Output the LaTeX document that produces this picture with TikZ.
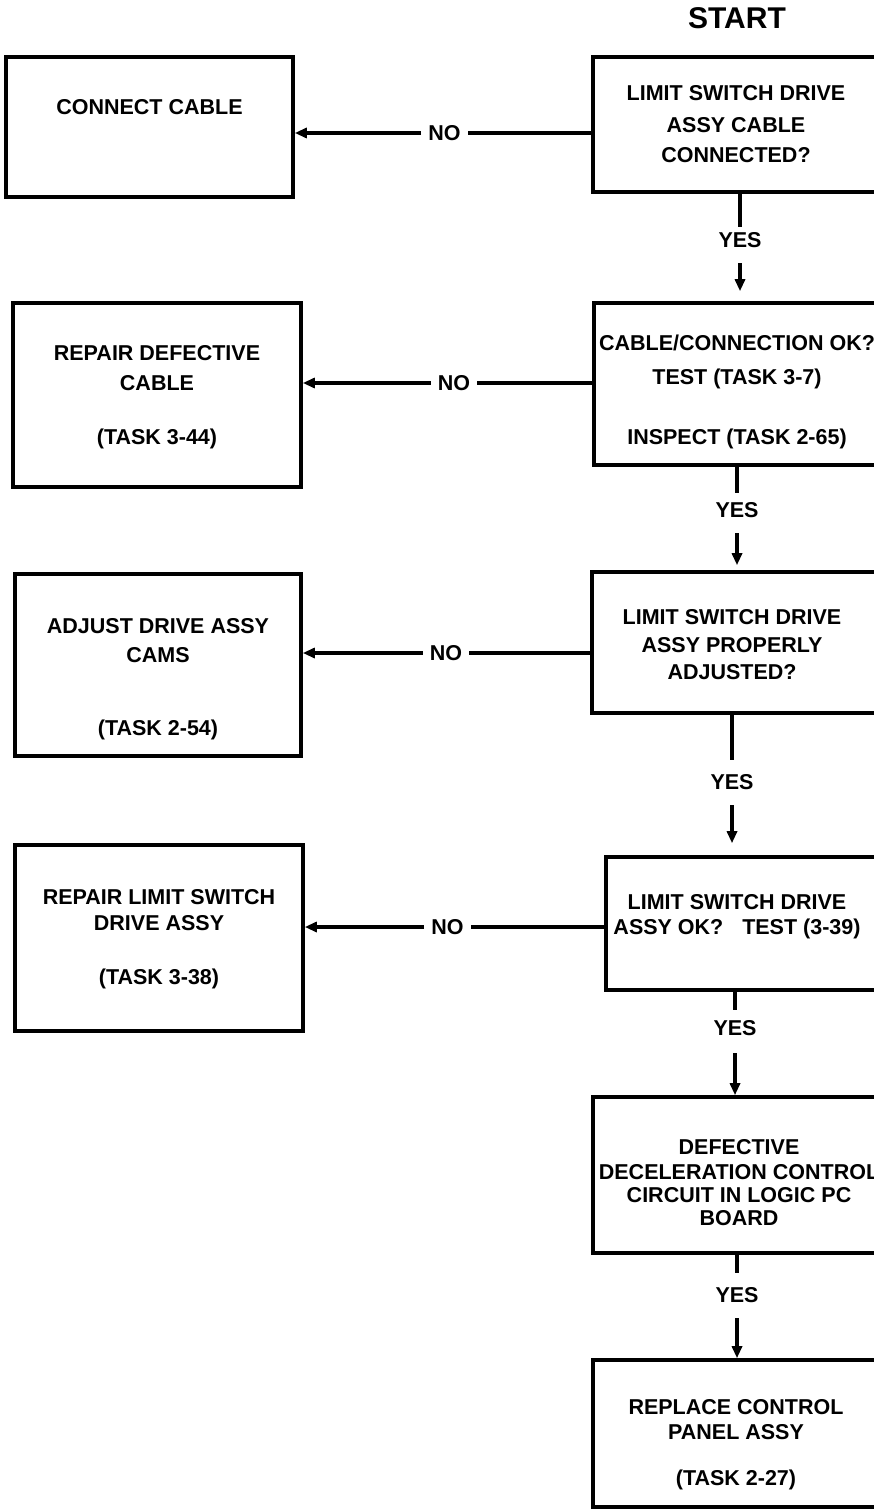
\documentclass[tikz,border=0pt]{standalone}
\usepackage{fontspec}
\setmainfont{Liberation Sans}
\usetikzlibrary{arrows.meta}
\begin{document}
\begin{tikzpicture}[x=1pt,y=-1pt,
  box/.style={draw, line width=3.6pt, inner sep=0pt},
  txt/.style={font=\bfseries\fontsize{21.5}{26}\selectfont, inner sep=0pt, text height=15.4pt, text depth=0pt},
  lbl/.style={txt, inner xsep=7pt},
  conn/.style={line width=3.2pt},
  arr/.style={conn, -{Triangle[length=12pt,width=10pt]}}]
\useasboundingbox (0,0) rectangle (874,1511);
\fill[white] (0,0) rectangle (874,1511);
\clip (0,0) rectangle (874,1511);

% START
\node[txt, font=\bfseries\fontsize{30}{36}\selectfont, text height=21.5pt] (start) at (737,18) {START};

% boxes
\node[box, minimum width=287pt, minimum height=135pt] (r1) at (736.5,124.5) {};
\node[box, minimum width=287pt, minimum height=140pt] (l1) at (149.5,127) {};
\node[box, minimum width=286pt, minimum height=162pt] (r2) at (737,384) {};
\node[box, minimum width=288pt, minimum height=184pt] (l2) at (157,395) {};
\node[box, minimum width=288pt, minimum height=141pt] (r3) at (736,642.5) {};
\node[box, minimum width=286pt, minimum height=182pt] (l3) at (158,665) {};
\node[box, minimum width=274pt, minimum height=133pt] (r4) at (743,923.5) {};
\node[box, minimum width=288pt, minimum height=186pt] (l4) at (159,938) {};
\node[box, minimum width=287pt, minimum height=156pt] (r5) at (736.5,1175) {};
\node[box, minimum width=287pt, minimum height=147pt] (r6) at (736.5,1433.5) {};

% texts
\node[txt] (r1a) at (736,93) {LIMIT SWITCH DRIVE};
\node[txt] (r1b) at (736,125) {ASSY CABLE};
\node[txt] (r1c) at (736,155) {CONNECTED?};
\node[txt] (l1a) at (149.5,107) {CONNECT CABLE};

\node[txt] (r2a) at (737,343) {CABLE/CONNECTION OK?};
\node[txt] (r2b) at (737,377) {TEST (TASK 3-7)};
\node[txt] (r2c) at (737,437) {INSPECT (TASK 2-65)};
\node[txt] (l2a) at (157,353) {REPAIR DEFECTIVE};
\node[txt] (l2b) at (157,383) {CABLE};
\node[txt] (l2c) at (157,437) {(TASK 3-44)};

\node[txt] (r3a) at (732,617) {LIMIT SWITCH DRIVE};
\node[txt] (r3b) at (732,645) {ASSY PROPERLY};
\node[txt] (r3c) at (732,672) {ADJUSTED?};
\node[txt] (l3a) at (158,626) {ADJUST DRIVE ASSY};
\node[txt] (l3b) at (158,655) {CAMS};
\node[txt] (l3c) at (158,728) {(TASK 2-54)};

\node[txt] (r4a) at (737,902) {LIMIT SWITCH DRIVE};
\node[txt] (r4b) at (737,927) {ASSY OK?\hspace{0.6em} TEST (3-39)};
\node[txt] (l4a) at (159,897) {REPAIR LIMIT SWITCH};
\node[txt] (l4b) at (159,923) {DRIVE ASSY};
\node[txt] (l4c) at (159,977) {(TASK 3-38)};

\node[txt] (r5a) at (739,1147) {DEFECTIVE};
\node[txt] (r5b) at (739,1172) {DECELERATION CONTROL};
\node[txt] (r5c) at (739,1195) {CIRCUIT IN LOGIC PC};
\node[txt] (r5d) at (739,1218) {BOARD};

\node[txt] (r6a) at (736,1407) {REPLACE CONTROL};
\node[txt] (r6b) at (736,1432) {PANEL ASSY};
\node[txt] (r6c) at (736,1478) {(TASK 2-27)};

% NO labels
\node[lbl] (no1) at (444.5,133) {NO};
\node[lbl] (no2) at (454,383) {NO};
\node[lbl] (no3) at (446,653) {NO};
\node[lbl] (no4) at (447.5,927) {NO};

% YES labels
\node[txt] (yes1) at (740,240) {YES};
\node[txt] (yes2) at (737,510) {YES};
\node[txt] (yes3) at (732,782) {YES};
\node[txt] (yes4) at (735,1028) {YES};
\node[txt] (yes5) at (737,1295) {YES};

% NO connectors
\draw[conn] (r1.west |- no1) -- (no1.east);
\draw[arr] (no1.west) -- (l1.east |- no1);
\draw[conn] (r2.west |- no2) -- (no2.east);
\draw[arr] (no2.west) -- (l2.east |- no2);
\draw[conn] (r3.west |- no3) -- (no3.east);
\draw[arr] (no3.west) -- (l3.east |- no3);
\draw[conn] (r4.west |- no4) -- (no4.east);
\draw[arr] (no4.west) -- (l4.east |- no4);

% YES connectors
\draw[conn] (r1.south -| yes1) -- ([yshift=5.5pt]yes1.north);
\draw[arr, shorten >=10pt] ([yshift=-15.5pt]yes1.south) -- (r2.north -| yes1);
\draw[conn] (r2.south -| yes2) -- ([yshift=9.5pt]yes2.north);
\draw[arr, shorten >=5pt] ([yshift=-15.5pt]yes2.south) -- (r3.north -| yes2);
\draw[conn] (r3.south -| yes3) -- ([yshift=14.5pt]yes3.north);
\draw[arr, shorten >=12pt] ([yshift=-15.5pt]yes3.south) -- (r4.north -| yes3);
\draw[conn] (r4.south -| yes4) -- ([yshift=10.5pt]yes4.north);
\draw[arr] ([yshift=-17.5pt]yes4.south) -- (r5.north -| yes4);
\draw[conn] (r5.south -| yes5) -- ([yshift=14.5pt]yes5.north);
\draw[arr] ([yshift=-15.5pt]yes5.south) -- (r6.north -| yes5);
\end{tikzpicture}
\end{document}
